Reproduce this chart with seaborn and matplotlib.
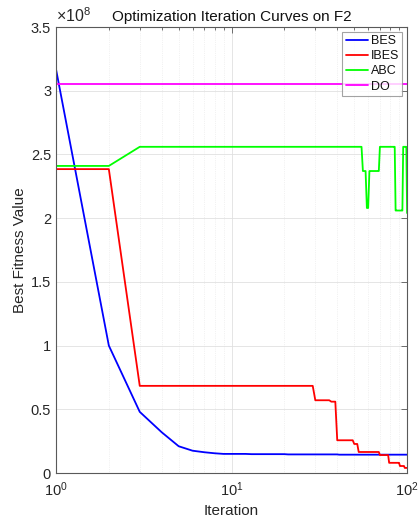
import numpy as np
import pandas as pd
import seaborn as sns
import matplotlib
matplotlib.use("Agg")
import matplotlib.pyplot as plt
from matplotlib.ticker import FixedLocator, LogLocator, NullFormatter, FuncFormatter

# Best fitness per iteration, stored as (value, number of iterations it holds)
bes_values = [3.17e8, 1.00e8, 0.48e8, 0.32e8, 0.21e8, 0.175e8, 0.163e8, 0.155e8,
              0.150e8, 0.148e8, 0.146e8, 0.144e8]
bes_counts = [1, 1, 1, 1, 1, 1, 1, 1, 4, 8, 20, 60]

ibes_values = [2.385e8, 0.684e8, 0.571e8, 0.560e8, 0.257e8, 0.228e8, 0.165e8,
               0.141e8, 0.080e8, 0.055e8, 0.040e8]
ibes_counts = [2, 27, 7, 3, 10, 3, 17, 9, 12, 6, 4]

abc_values = [2.41e8, 2.56e8, 2.37e8, 2.08e8, 2.37e8, 2.56e8, 2.06e8, 2.56e8, 2.04e8]
abc_counts = [2, 53, 3, 2, 9, 16, 9, 5, 1]

do_values = [3.05e8]
do_counts = [100]

series_names = ["BES", "IBES", "ABC", "DO"]
series_colors = ["#0000ff", "#ff0000", "#00ff00", "#ff00ff"]

y_ticks = [0, 0.5e8, 1.0e8, 1.5e8, 2.0e8, 2.5e8, 3.0e8, 3.5e8]
x_ticks = [1, 10, 100]

runs = {
    "BES": (bes_values, bes_counts),
    "IBES": (ibes_values, ibes_counts),
    "ABC": (abc_values, abc_counts),
    "DO": (do_values, do_counts),
}

frames = []
for name in series_names:
    vals, cnts = runs[name]
    y = np.repeat(vals, cnts)
    frames.append(pd.DataFrame({"Iteration": np.arange(1, len(y) + 1),
                                "Best": y, "Algorithm": name}))
df = pd.concat(frames, ignore_index=True)

sns.set_style("white")
plt.rcParams["font.family"] = ["Liberation Sans", "DejaVu Sans"]
plt.rcParams["mathtext.fontset"] = "custom"
plt.rcParams["mathtext.rm"] = "Liberation Sans"
plt.rcParams["mathtext.it"] = "Liberation Sans"

fig = plt.figure(figsize=(4.2, 5.21), dpi=100)
ax = fig.add_axes([0.1333, 0.0921, 0.836, 0.8560])

sns.lineplot(data=df, x="Iteration", y="Best", hue="Algorithm",
             hue_order=series_names, palette=series_colors,
             estimator=None, linewidth=1.3, ax=ax)

ax.set_xscale("log")
ax.set_xlim(1, 100)
ax.set_ylim(0, 3.5e8)

axis_color = "0.35"
ax.xaxis.set_major_locator(FixedLocator(x_ticks))
ax.xaxis.set_minor_locator(LogLocator(base=10, subs=np.arange(2, 10)))
ax.xaxis.set_minor_formatter(NullFormatter())
ax.xaxis.set_major_formatter(FuncFormatter(
    lambda v, p: r"$10^{%d}$" % int(round(np.log10(v)))))
ax.yaxis.set_major_locator(FixedLocator(y_ticks))
ax.yaxis.set_major_formatter(FuncFormatter(lambda v, p: "%g" % (v / 1e8)))

ax.tick_params(axis="both", which="both", direction="in", top=True, right=True,
               colors=axis_color, labelcolor="#262626", labelsize=10.5)
ax.tick_params(axis="both", which="major", length=4, width=0.6)
ax.tick_params(axis="x", which="minor", length=2.5, width=0.6)
ax.tick_params(axis="x", which="major", pad=5)

for s in ax.spines.values():
    s.set_color(axis_color)
    s.set_linewidth(0.8)

ax.grid(True, which="major", axis="both", color="0.88", linewidth=0.6)
ax.grid(True, which="minor", axis="x", color="0.9", linewidth=0.5, linestyle=":")
ax.set_axisbelow(True)

ax.set_xlabel("Iteration", fontsize=11, color="#262626", labelpad=4)
ax.set_ylabel("Best Fitness Value", fontsize=11, color="#262626", labelpad=3)
ax.set_title("Optimization Iteration Curves on F2", fontsize=11, color="#111111", pad=4)
ax.text(0.0, 1.004, r"$\times10^{8}$", transform=ax.transAxes, fontsize=11.5,
        color="#262626", ha="left", va="bottom")

leg = ax.legend(loc="upper right", fontsize=9, frameon=True, fancybox=False,
                borderpad=0.25, handlelength=1.8, handletextpad=0.2,
                labelspacing=0.25, borderaxespad=0.4)
leg.get_frame().set_edgecolor("0.55")
leg.get_frame().set_linewidth(0.8)
for t in leg.get_texts():
    t.set_color("#111111")

fig.savefig("out.png", dpi=100)
